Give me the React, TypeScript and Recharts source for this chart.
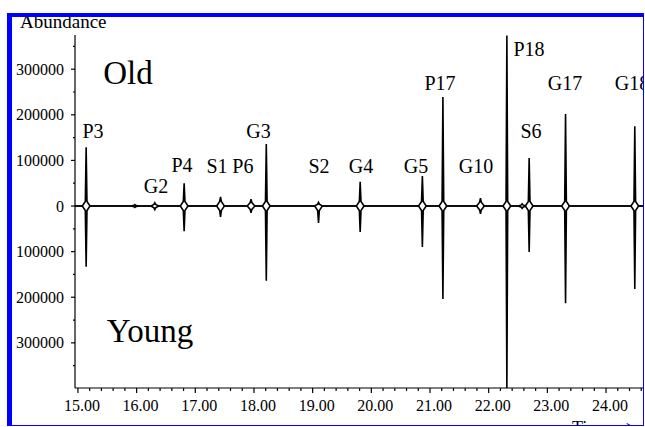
import { LineChart, Line, XAxis, YAxis, ReferenceDot } from "recharts";

// retention time (min) of each peak, with the apex read for each trace
const peakTimes = [15.14, 15.97, 16.31, 16.81, 17.43, 17.95, 18.21, 19.1, 19.81, 20.87, 21.22, 21.86, 22.31, 22.57, 22.69, 23.31, 24.49];
const oldAbundance = [129000, 3000, 7000, 50000, 20000, 15000, 136000, 8000, 53000, 66000, 239000, 17000, 374000, 5000, 105000, 202000, 175000];
const youngAbundance = [-133000, -3000, -8000, -55000, -24000, -15000, -164000, -37000, -57000, -90000, -204000, -17000, -399000, -5000, -101000, -213000, -182000];

const xMajorTicks = [15, 16, 17, 18, 19, 20, 21, 22, 23, 24];
const yMajorTicks = [-300000, -200000, -100000, 0, 100000, 200000, 300000];

const peakLabels = [
  { name: "P3", t: 15.256, v: 164400 },
  { name: "G2", t: 16.329, v: 43800 },
  { name: "P4", t: 16.773, v: 89900 },
  { name: "S1", t: 17.369, v: 87700 },
  { name: "P6", t: 17.812, v: 87700 },
  { name: "G3", t: 18.077, v: 164400 },
  { name: "S2", t: 19.108, v: 87700 },
  { name: "G4", t: 19.824, v: 87700 },
  { name: "G5", t: 20.761, v: 87700 },
  { name: "P17", t: 21.17, v: 269600 },
  { name: "G10", t: 21.784, v: 87700 },
  { name: "P18", t: 22.687, v: 344100 },
  { name: "S6", t: 22.721, v: 164400 },
  { name: "G17", t: 23.301, v: 269600 },
  { name: "G18", t: 24.443, v: 269600 },
];

const T_START = 14.95;
const T_END = 24.63;
const Y_MIN = -399000;
const Y_MAX = 375000;
// peak drawing: wide foot near the baseline, thin spike above it
const FOOT = 0.065;
const NECK = 0.014;
const NECK_MAX = 10000;
const FONT = "'Liberation Serif', 'Times New Roman', serif";
const BLUE = "#0000ff";

function buildTrace(values: number[]) {
  const pts = [{ t: T_START, v: 0 }];
  peakTimes.forEach((t, i) => {
    const h = values[i];
    const neck = Math.sign(h) * Math.min(Math.abs(h) * 0.5, NECK_MAX);
    pts.push(
      { t: t - FOOT, v: 0 },
      { t: t - NECK, v: neck },
      { t, v: h },
      { t: t + NECK, v: neck },
      { t: t + FOOT, v: 0 }
    );
  });
  pts.push({ t: T_END, v: 0 });
  return pts;
}

const oldData = buildTrace(oldAbundance);
const youngData = buildTrace(youngAbundance);

const xTicks = xMajorTicks
  .flatMap((m) => [0, 0.2, 0.4, 0.6, 0.8].map((d) => +(m + d).toFixed(1)))
  .filter((t) => t <= T_END);
const yTicks = yMajorTicks
  .flatMap((m) => [m - 50000, m, m + 50000])
  .filter((v, i, a) => a.indexOf(v) === i && v > Y_MIN && v < Y_MAX)
  .sort((a, b) => a - b);

const XTick = (props: any) => {
  const { x, y, payload } = props;
  const v = payload.value as number;
  const major = Math.abs(v - Math.round(v)) < 1e-6;
  return (
    <g>
      <line x1={x} x2={x} y1={y} y2={y + (major ? 5 : 3)} stroke="#000" strokeWidth={1.2} />
      {major && (
        <text x={x + 4} y={y + 23} textAnchor="middle" fontSize={16} fontFamily={FONT} fill="#000">
          {v.toFixed(2)}
        </text>
      )}
    </g>
  );
};

const YTick = (props: any) => {
  const { x, y, payload } = props;
  const v = payload.value as number;
  const major = v % 100000 === 0;
  return (
    <g>
      <line x1={x - (major ? 4 : 2)} x2={x} y1={y} y2={y} stroke="#000" strokeWidth={1.2} />
      {major && (
        <text x={x - 11} y={y + 5.5} textAnchor="end" fontSize={16} fontFamily={FONT} fill="#000">
          {Math.abs(v)}
        </text>
      )}
    </g>
  );
};

const box = (left: number, top: number, width: number, height: number, bg: string) => (
  <div style={{ position: "absolute", left, top, width, height, background: bg }} />
);

export default function App() {
  return (
    <div
      style={{
        position: "absolute",
        left: 0,
        top: 0,
        width: 645,
        height: 427,
        background: "#fff",
        fontFamily: FONT,
        overflow: "hidden",
      }}
    >
      <LineChart width={645} height={427} margin={{ top: 35, right: 2, bottom: 0, left: 0 }}>
        <XAxis
          dataKey="t"
          type="number"
          domain={[T_START, T_END]}
          allowDataOverflow
          ticks={xTicks}
          interval={0}
          height={39}
          tickSize={0}
          tickMargin={0}
          tickLine={false}
          tick={XTick}
          axisLine={{ stroke: "#000", strokeWidth: 1.2 }}
        />
        <YAxis
          type="number"
          domain={[Y_MIN, Y_MAX]}
          allowDataOverflow
          ticks={yTicks}
          interval={0}
          width={75}
          tickSize={0}
          tickMargin={0}
          tickLine={false}
          tick={YTick}
          axisLine={{ stroke: "#000", strokeWidth: 1.2 }}
        />
        <Line data={oldData} dataKey="v" type="linear" stroke="#000" strokeWidth={1.6} dot={false} isAnimationActive={false} />
        <Line data={youngData} dataKey="v" type="linear" stroke="#000" strokeWidth={1.6} dot={false} isAnimationActive={false} />
        {peakLabels.map((l) => (
          <ReferenceDot
            key={l.name}
            x={l.t}
            y={l.v}
            r={0}
            fill="none"
            stroke="none"
            label={{ value: l.name, position: "center", fontSize: 20, fill: "#000", fontFamily: FONT }}
          />
        ))}
        <ReferenceDot
          x={15.852}
          y={293700}
          r={0}
          fill="none"
          stroke="none"
          label={{ value: "Old", position: "center", fontSize: 33, fill: "#000", fontFamily: FONT }}
        />
        <ReferenceDot
          x={16.227}
          y={-271800}
          r={0}
          fill="none"
          stroke="none"
          label={{ value: "Young", position: "center", fontSize: 33, fill: "#000", fontFamily: FONT }}
        />
        <text x={20} y={28} fontSize={19} fontFamily={FONT} fill="#000">
          Abundance
        </text>
        <text x={572} y={434} fontSize={18} fontFamily={FONT} fill="#000">
          {"Time -->"}
        </text>
      </LineChart>
      {box(0, 0, 645, 13, "#fff")}
      {box(0, 0, 7, 427, "#fff")}
      {box(7, 13, 638, 4, BLUE)}
      {box(7, 13, 5, 412, BLUE)}
      {box(643, 13, 1, 412, BLUE)}
      {box(644, 13, 1, 414, "#fff")}
      {box(7, 425, 637, 1, BLUE)}
      {box(0, 426, 645, 1, "#fff")}
    </div>
  );
}
